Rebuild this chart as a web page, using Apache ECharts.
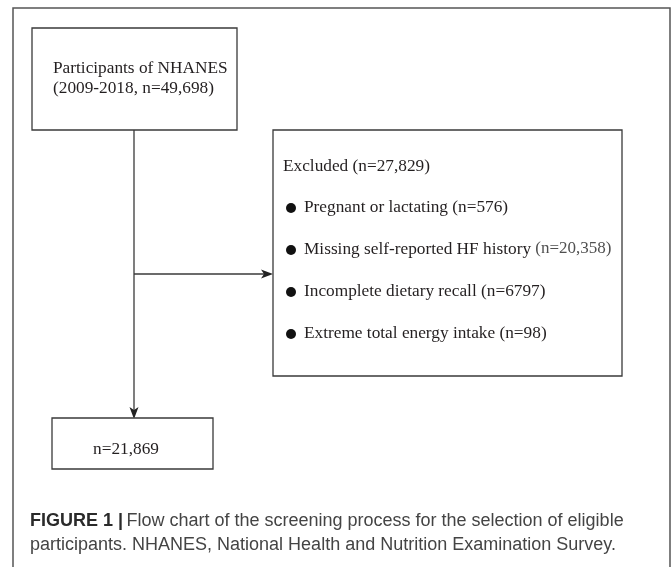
<!DOCTYPE html>
<html>
<head>
<meta charset="utf-8">
<script src="https://cdn.jsdelivr.net/npm/echarts/dist/echarts.min.js"></script>
<style>
html,body{margin:0;padding:0;background:#fff;}
#chart{width:672px;height:567px;}
</style>
</head>
<body>
<div id="chart"></div>
<script>
// ---- content (data) ----
const sourceLines = ['Participants of NHANES', '(2009-2018, n=49,698)'];
const excludedTitle = 'Excluded (n=27,829)';
const exclusionReasons = ['Pregnant or lactating', 'Missing self-reported HF history', 'Incomplete dietary recall', 'Extreme total energy intake'];
const exclusionCounts = ['576', '20,358', '6797', '98'];
const finalCount = '21,869';
const captionLabel = 'FIGURE 1';
const captionLines = ['Flow chart of the screening process for the selection of eligible',
                      'participants. NHANES, National Health and Nutrition Examination Survey.'];

// ---- layout ----
const SERIF = '"Liberation Serif", "Times New Roman", serif';
const SANS = '"Liberation Sans", Arial, sans-serif';
const INK = '#231f20';
const LINE = '#3a3a3a';
const FS = '17.3px ';

const chart = echarts.init(document.getElementById('chart'), null, {renderer: 'canvas'});
const g = [];

// outer frame
g.push({type: 'rect', shape: {x: 13, y: 8, width: 657, height: 600},
        style: {fill: 'none', stroke: '#555', lineWidth: 1.5}});

function box(x, y, w, h) {
  g.push({type: 'rect', shape: {x: x, y: y, width: w, height: h},
          style: {fill: '#fff', stroke: LINE, lineWidth: 1.3}});
}
function text(str, x, y, opts) {
  g.push({type: 'text', x: x, y: y,
          style: Object.assign({text: str, fill: INK, font: FS + SERIF,
                                textVerticalAlign: 'middle', textAlign: 'left'}, opts || {})});
}

// connectors
g.push({type: 'line', shape: {x1: 134, y1: 130, x2: 134, y2: 410}, style: {stroke: LINE, lineWidth: 1.3}});
g.push({type: 'polygon', shape: {points: [[134, 419], [129.5, 407], [134, 410], [138.5, 407]]}, style: {fill: '#222'}});
g.push({type: 'line', shape: {x1: 134, y1: 274, x2: 265, y2: 274}, style: {stroke: LINE, lineWidth: 1.3}});
g.push({type: 'polygon', shape: {points: [[273, 274], [261, 269.5], [264, 274], [261, 278.5]]}, style: {fill: '#222'}});

// box 1
box(32, 28, 205, 102);
sourceLines.forEach((s, i) => text(s, 53, 68 + i * 20));

// box 2
box(273, 130, 349, 246);
text(excludedTitle, 283, 166);
exclusionReasons.forEach((r, i) => {
  const y = 207 + i * 42;
  g.push({type: 'circle', shape: {cx: 291, cy: y + 1, r: 5}, style: {fill: '#111'}});
  if (i === 1) {
    g.push({type: 'text', x: 304, y: y,
            style: {text: '{a|' + r + ' }{b|(n=' + exclusionCounts[i] + ')}',
                    textVerticalAlign: 'middle',
                    rich: {a: {font: FS + SERIF, fill: INK},
                           b: {font: '17px ' + SERIF, fill: '#505050'}}}});
  } else {
    text(r + ' (n=' + exclusionCounts[i] + ')', 304, y);
  }
});

// box 3
box(52, 418, 161, 51);
text('n=' + finalCount, 126, 449, {textAlign: 'center'});

// caption
g.push({type: 'text', x: 30, y: 521,
        style: {text: '{b|' + captionLabel + ' |} {n|' + captionLines[0] + '}',
                textVerticalAlign: 'middle',
                rich: {b: {font: 'bold 18px ' + SANS, fill: '#2a2a2a'},
                       n: {font: '18px ' + SANS, fill: '#444'}}}});
g.push({type: 'text', x: 30, y: 545,
        style: {text: captionLines[1], font: '18px ' + SANS, fill: '#444', textVerticalAlign: 'middle'}});

chart.setOption({animation: false, backgroundColor: '#fff', graphic: {elements: g}});
</script>
</body>
</html>
